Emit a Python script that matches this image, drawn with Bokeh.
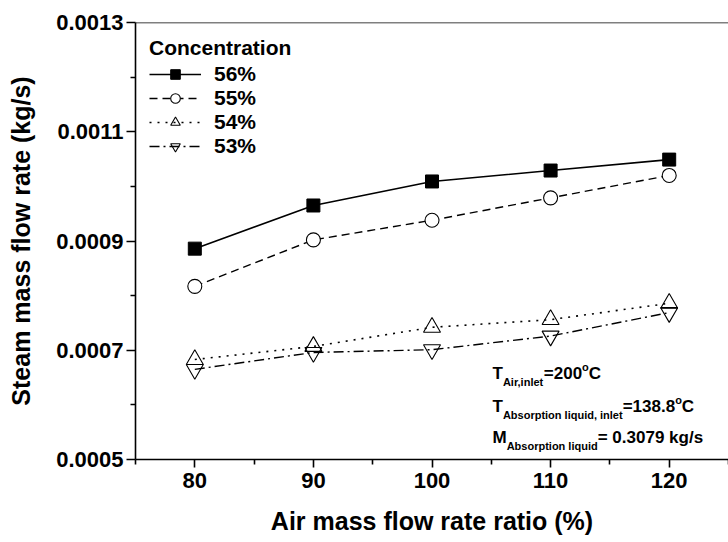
from bokeh.plotting import figure
from bokeh.models import (Range1d, FixedTicker, PrintfTickFormatter, Label, Legend, Span)
from bokeh.embed import file_html
from bokeh.resources import INLINE

# ---- data ----
air_ratio = [80, 90, 100, 110, 120]
conc_56 = [0.000886, 0.000965, 0.001009, 0.001029, 0.001049]
conc_55 = [0.000817, 0.000902, 0.000938, 0.000979, 0.001020]
conc_54 = [0.000683, 0.000707, 0.000742, 0.000756, 0.000786]
conc_53 = [0.000665, 0.000696, 0.000701, 0.000726, 0.000769]
series_labels = ["56%", "55%", "54%", "53%"]
legend_title = "Concentration"
x_title = "Air mass flow rate ratio (%)"
y_title = "Steam mass flow rate (kg/s)"
x_major = [80, 90, 100, 110, 120]
x_minor = [75, 85, 95, 105, 115, 125]
y_major = [0.0005, 0.0007, 0.0009, 0.0011, 0.0013]
y_minor = [0.0006, 0.0008, 0.0010, 0.0012]

FONT = "Liberation Sans"

p = figure(width=728, height=542, output_backend="svg", toolbar_location=None,
           x_range=Range1d(75, 125), y_range=Range1d(0.0005, 0.0013),
           min_border_left=135, min_border_right=0, min_border_top=22,
           min_border_bottom=83)
p.outline_line_color = None
p.grid.visible = False
p.background_fill_color = "white"
p.border_fill_color = "white"

# axes
p.xaxis.ticker = FixedTicker(ticks=x_major, minor_ticks=x_minor)
p.yaxis.ticker = FixedTicker(ticks=y_major, minor_ticks=y_minor)
p.yaxis.formatter = PrintfTickFormatter(format="%.4f")
for ax in (p.xaxis[0], p.yaxis[0]):
    ax.axis_line_width = 1.6
    ax.major_tick_line_width = 1.6
    ax.minor_tick_line_width = 1.6
    ax.major_tick_in = 0
    ax.minor_tick_in = 0
    ax.major_label_text_font = FONT
    ax.major_label_text_font_style = "bold"
    ax.major_label_text_color = "black"
    ax.axis_label_text_font = FONT
    ax.axis_label_text_font_style = "bold"
    ax.axis_label_text_color = "black"
    ax.axis_label_text_font_size = "25px"
    ax.major_label_text_font_size = "22px"
p.xaxis.axis_label = x_title
p.yaxis.axis_label = y_title
p.xaxis.major_tick_out = 8
p.xaxis.minor_tick_out = 5
p.yaxis.major_tick_out = 9
p.yaxis.minor_tick_out = 5
p.xaxis.major_label_standoff = 5
p.yaxis.major_label_standoff = 3
p.xaxis.axis_label_standoff = 16
p.yaxis.axis_label_standoff = 18

# top frame line
p.add_layout(Span(location=0.0013, dimension="width", line_color="black", line_width=1.6))

# series
r56l = p.line(air_ratio, conc_56, line_color="black", line_width=1.6)
r56m = p.scatter(air_ratio, conc_56, marker="square", size=13, fill_color="black",
                 line_color="black")
r55l = p.line(air_ratio, conc_55, line_color="black", line_width=1.4, line_dash="8 5")
r55m = p.scatter(air_ratio, conc_55, marker="circle", size=14, fill_color="white",
                 line_color="black", line_width=1.1)
r54l = p.line(air_ratio, conc_54, line_color="black", line_width=1.6, line_dash="2 6")
r54m = p.scatter(air_ratio, conc_54, marker="triangle", size=17, fill_color="white",
                 fill_alpha=0.0, line_color="black", line_width=1.1)
r53l = p.line(air_ratio, conc_53, line_color="black", line_width=1.4,
              line_dash="10 4 2 4")
r53m = p.scatter(air_ratio, conc_53, marker="inverted_triangle", size=17,
                 fill_color="white", fill_alpha=0.0, line_color="black", line_width=1.1)

legend = Legend(items=[(series_labels[0], [r56l, r56m]),
                       (series_labels[1], [r55l, r55m]),
                       (series_labels[2], [r54l, r54m]),
                       (series_labels[3], [r53l, r53m])],
                location="top_left", title=legend_title)
legend.title_text_font = FONT
legend.title_text_font_style = "bold"
legend.title_text_font_size = "21px"
legend.title_text_color = "black"
legend.title_standoff = 2
legend.label_text_font = FONT
legend.label_text_font_style = "bold"
legend.label_text_font_size = "21px"
legend.label_text_color = "black"
legend.glyph_width = 52
legend.glyph_height = 24
legend.label_height = 24
legend.label_standoff = 13
legend.spacing = 0
legend.margin = 14
legend.padding = 10
legend.border_line_color = None
legend.background_fill_alpha = 0.0
p.add_layout(legend)

# ---- condition annotation ----
W = {'T': 611, 'M': 833, 'A': 722, 'i': 278, 'r': 389, ',': 278, 'n': 611, 'l': 278,
     'e': 556, 't': 333, '=': 584, '0': 556, '1': 556, '2': 556, '3': 556, '7': 556,
     '8': 556, '9': 556, '.': 278, 'o': 611, 'C': 722, 'b': 611, 's': 556, 'p': 611,
     'q': 611, 'u': 611, 'd': 611, ' ': 278, 'k': 556, 'g': 611, '/': 278}
MAIN, SUB = 17, 11


def width(s, size):
    return sum(W.get(c, 556) for c in s) * size / 1000.0


rows = [
    ([("T", "main"), ("Air,inlet", "sub"), ("=200", "main"), ("o", "sup"), ("C", "main")], 86),
    ([("T", "main"), ("Absorption liquid, inlet", "sub"), ("=138.8", "main"), ("o", "sup"),
      ("C", "main")], 53),
    ([("M", "main"), ("Absorption liquid", "sub"), (" = 0.3079 kg/s", "main")], 22),
]
for segs, base in rows:
    x = 357.0
    for txt, kind in segs:
        size = MAIN if kind == "main" else SUB
        dy = {"main": 0, "sub": -8, "sup": 6.5}[kind]
        p.add_layout(Label(x=x, y=base + dy, x_units="screen", y_units="screen", text=txt,
                           text_font=FONT, text_font_style="bold",
                           text_font_size=f"{size}px", text_color="black",
                           text_baseline="alphabetic", text_align="left"))
        x += width(txt, size)

open("out.html", "w").write(file_html(p, INLINE))
